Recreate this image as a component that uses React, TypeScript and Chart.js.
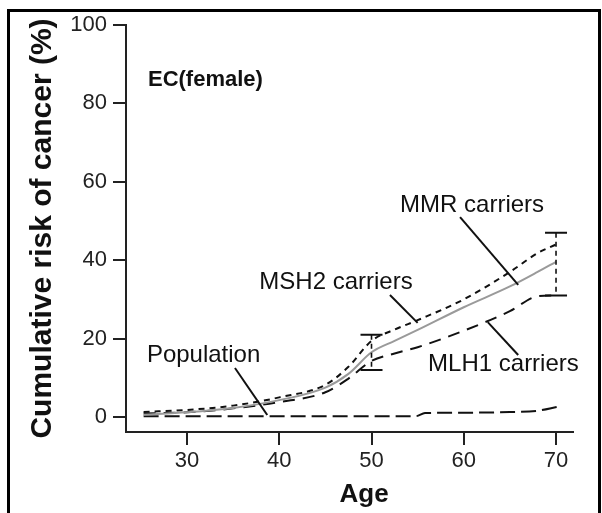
import React, { useEffect, useRef } from "react";
import { Chart, registerables } from "chart.js";

Chart.register(...registerables);

// ---- data ----
const carrierAges = [25.3, 30, 35, 40, 45, 47.5, 50, 52.5, 55, 60, 65, 68, 70];
const mmrCarriers = [0.6, 1.2, 2.3, 4.3, 7.5, 11, 16.5, 19.4, 22.2, 28, 33.3, 37, 39.6];
const msh2Carriers = [1.3, 1.8, 2.9, 5, 8.2, 12.8, 19.4, 22.3, 24.7, 30, 37, 41.8, 44];
const mlh1Carriers = [0.9, 1.2, 2.2, 3.8, 6.3, 9.8, 14.3, 16.2, 17.8, 22, 27, 30.8, 31];
const populationAges = [25.3, 54.8, 55.8, 60, 65, 68, 70.2];
const population = [0.2, 0.2, 1.0, 1.1, 1.25, 1.6, 2.6];
const errorAges = [50, 70];
const errorLow = [12, 31];
const errorHigh = [21, 47];
const xTicks = [30, 40, 50, 60, 70];
const yTicks = [0, 20, 40, 60, 80, 100];

// label annotations, in data units (age, %)
const curveLabels = [
  { text: "MMR carriers", x: 60.9, y: 54.1, from: [59.6, 51], to: [65.9, 33.7] },
  { text: "MSH2 carriers", x: 46.15, y: 34.4, from: [52.0, 31.1], to: [55.0, 24.0] },
  { text: "Population", x: 31.8, y: 15.8, from: [35.2, 12.5], to: [38.7, 0.5] },
  { text: "MLH1 carriers", x: 64.3, y: 13.3, from: [62.6, 24.2], to: [65.9, 15.8] },
];
const panelTitle = { text: "EC(female)", x: 25.77, y: 86 };
const xTitle = { text: "Age", x: 49.2 };

const FONT = '"Liberation Sans", Arial, Helvetica, sans-serif';
const AXIS = "#222";
const INK = "#111";

const toXY = (xs: number[], ys: number[]) => xs.map((x, i) => ({ x, y: ys[i] }));

const annotationPlugin = {
  id: "annotations",
  afterDatasetsDraw(chart: any) {
    const ctx = chart.ctx;
    const xs = chart.scales.x;
    const ys = chart.scales.y;
    ctx.save();
    // error bars
    for (let i = 0; i < errorAges.length; i++) {
      const px = xs.getPixelForValue(errorAges[i]);
      const top = ys.getPixelForValue(errorHigh[i]);
      const bot = ys.getPixelForValue(errorLow[i]);
      ctx.strokeStyle = INK;
      ctx.lineWidth = 1.6;
      ctx.setLineDash([5, 4]);
      ctx.beginPath();
      ctx.moveTo(px, top);
      ctx.lineTo(px, bot);
      ctx.stroke();
      ctx.setLineDash([]);
      ctx.lineWidth = 2;
      ctx.beginPath();
      ctx.moveTo(px - 11, top);
      ctx.lineTo(px + 11, top);
      ctx.moveTo(px - 11, bot);
      ctx.lineTo(px + 11, bot);
      ctx.stroke();
    }
    // pointer lines and labels
    ctx.fillStyle = INK;
    ctx.strokeStyle = INK;
    ctx.lineWidth = 2;
    ctx.font = `24px ${FONT}`;
    ctx.textAlign = "center";
    ctx.textBaseline = "middle";
    for (const l of curveLabels) {
      ctx.beginPath();
      ctx.moveTo(xs.getPixelForValue(l.from[0]), ys.getPixelForValue(l.from[1]));
      ctx.lineTo(xs.getPixelForValue(l.to[0]), ys.getPixelForValue(l.to[1]));
      ctx.stroke();
      ctx.fillText(l.text, xs.getPixelForValue(l.x), ys.getPixelForValue(l.y));
    }
    // panel title
    ctx.font = `bold 22px ${FONT}`;
    ctx.textAlign = "left";
    ctx.fillText(panelTitle.text, xs.getPixelForValue(panelTitle.x), ys.getPixelForValue(panelTitle.y));
    // x axis title
    ctx.font = `bold 26px ${FONT}`;
    ctx.textAlign = "center";
    ctx.fillText(xTitle.text, xs.getPixelForValue(xTitle.x), chart.height - 18);
    ctx.restore();
  },
};

export default function App() {
  const ref = useRef<HTMLCanvasElement | null>(null);

  useEffect(() => {
    document.body.style.overflow = "hidden";
    const canvas = ref.current;
    if (!canvas) return;
    const lineBase = { pointRadius: 0, borderWidth: 2, cubicInterpolationMode: "monotone" };
    const chart = new Chart(canvas, {
      type: "line",
      data: {
        datasets: [
          {
            ...lineBase,
            label: "MMR carriers",
            data: toXY(carrierAges, mmrCarriers),
            borderColor: "#9a9a9a",
          },
          {
            ...lineBase,
            label: "MSH2 carriers",
            data: toXY(carrierAges, msh2Carriers),
            borderColor: INK,
            borderDash: [6, 5],
          },
          {
            ...lineBase,
            label: "MLH1 carriers",
            data: toXY(carrierAges, mlh1Carriers),
            borderColor: INK,
            borderDash: [12, 8],
          },
          {
            ...lineBase,
            label: "Population",
            data: toXY(populationAges, population),
            borderColor: INK,
            borderDash: [15, 6],
          },
        ],
      },
      options: {
        responsive: false,
        animation: false,
        layout: { padding: { left: 0, top: 25, right: 29, bottom: 0 } },
        plugins: {
          legend: { display: false },
          tooltip: { enabled: false },
        },
        scales: {
          x: {
            type: "linear",
            min: 23.39,
            max: 71.84,
            afterBuildTicks: (s: any) => {
              s.ticks = xTicks.map((v) => ({ value: v }));
            },
            afterFit: (s: any) => {
              s.height = 81;
            },
            border: { display: true, color: AXIS, width: 2 },
            grid: { drawOnChartArea: false, drawTicks: true, tickLength: 13, color: AXIS, lineWidth: 2 },
            ticks: { font: { family: FONT, size: 22 }, color: "#222", padding: 3, maxRotation: 0, autoSkip: false },
          },
          y: {
            type: "linear",
            min: -3.83,
            max: 100,
            afterBuildTicks: (s: any) => {
              s.ticks = yTicks.map((v) => ({ value: v }));
            },
            afterFit: (s: any) => {
              s.width = 126;
            },
            border: { display: true, color: AXIS, width: 2 },
            grid: { drawOnChartArea: false, drawTicks: true, tickLength: 13, color: AXIS, lineWidth: 2 },
            ticks: { font: { family: FONT, size: 22 }, color: "#222", padding: 6, autoSkip: false },
            title: {
              display: true,
              text: "Cumulative risk of cancer (%)",
              font: { family: FONT, size: 30, weight: "bold" },
              color: INK,
              padding: { top: 24.5, bottom: 0 },
            },
          },
        },
      },
      plugins: [annotationPlugin],
    } as any);
    return () => chart.destroy();
  }, []);

  return (
    <div>
      <div
        style={{
          position: "absolute",
          left: 7,
          top: 9,
          width: 594,
          height: 504,
          boxSizing: "border-box",
          borderTop: "3px solid #000",
          borderLeft: "3px solid #000",
          borderRight: "3px solid #000",
          background: "#fff",
        }}
      />
      <canvas ref={ref} width={602} height={513} style={{ position: "absolute", left: 0, top: 0 }} />
    </div>
  );
}
